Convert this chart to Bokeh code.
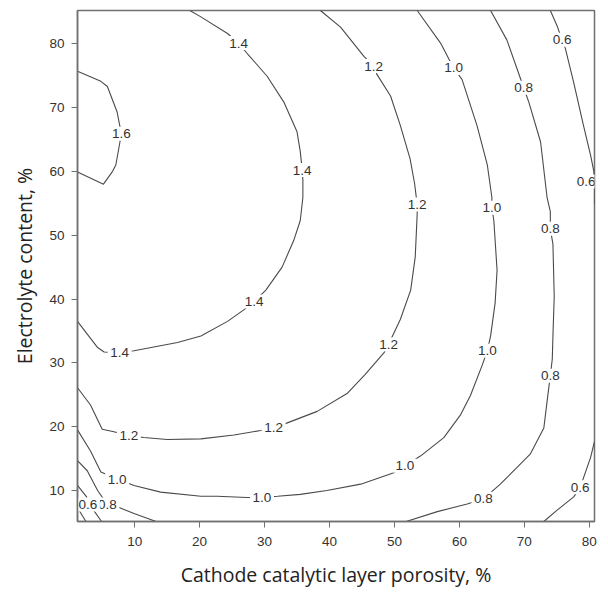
from bokeh.plotting import figure
from bokeh.models import FixedTicker
from bokeh.core.properties import value
from bokeh.embed import file_html
from bokeh.resources import INLINE

# ---- contour lines (x = porosity %, y = electrolyte content %) ----
c16_x = [1.2, 4.8, 5.8, 7.3, 7.6, 7.95, 7.7, 7.1, 6.6, 5.2, 1.2]
c16_y = [75.7, 74.1, 73.3, 69.3, 67.7, 65.9, 64.4, 61.0, 60.0, 58.0, 59.9]

c14_x = [18.5, 20.2, 24.3, 26.0, 27.3, 30.4, 33.0, 35.0, 35.5, 35.8, 35.9, 35.9, 35.5, 34.5,
         32.7, 30.2, 28.4, 26.8, 24.3, 20.2, 16.6, 9.9, 7.7, 5.3, 4.3, 1.2]
c14_y = [85.2, 84.2, 81.6, 80.1, 78.5, 74.9, 70.8, 66.2, 63.1, 60.2, 58.7, 55.9, 52.3, 49.2,
         45.0, 41.4, 39.6, 38.3, 36.5, 34.2, 33.2, 31.9, 31.6, 31.7, 32.4, 36.5]

c12_x = [1.2, 3.2, 5.0, 6.8, 9.1, 11.4, 15.0, 20.2, 25.3, 29.4, 31.4, 33.5, 38.1, 42.7, 45.5,
         48.4, 49.1, 50.9, 52.5, 53.2, 53.5, 53.5, 53.1, 52.4, 50.9, 49.4, 47.3, 46.8, 45.3, 41.7, 38.6]
c12_y = [26.1, 23.4, 19.6, 19.2, 18.6, 18.3, 18.0, 18.1, 18.7, 19.4, 19.8, 20.6, 22.4, 25.2, 28.2,
         31.6, 32.9, 36.8, 41.4, 46.6, 53.3, 54.8, 58.1, 62.0, 67.2, 71.8, 75.2, 76.5, 78.0, 82.6, 85.2]

c10_x = [1.2, 3.2, 4.8, 7.3, 9.9, 14.0, 20.2, 22.7, 27.3, 29.6, 32.0, 35.5, 39.6, 44.8, 49.9,
         51.6, 54.0, 57.6, 60.2, 61.7, 63.5, 64.3, 64.8, 65.5, 65.8, 65.3, 65.0, 65.0, 64.3, 62.7,
         60.4, 59.1, 57.1, 53.5]
c10_y = [19.5, 16.2, 12.9, 11.8, 10.8, 9.75, 9.1, 9.1, 8.9, 8.9, 9.1, 9.4, 10.0, 11.0, 12.8,
         13.9, 15.4, 18.3, 21.9, 24.9, 29.6, 31.9, 34.2, 39.4, 44.5, 52.3, 54.3, 55.9, 61.0, 67.2,
         74.4, 76.2, 80.1, 85.2]

c08a_x = [51.8, 56.6, 61.2, 63.7, 66.3, 70.9, 73.0, 73.6, 74.0, 74.3, 74.4, 74.6, 74.4, 74.0,
          74.0, 73.5, 72.5, 70.7, 69.9, 68.9, 67.3, 64.8]
c08a_y = [5.15, 6.7, 7.9, 8.7, 11.0, 15.7, 19.8, 24.8, 28.0, 30.6, 34.2, 40.4, 48.6, 51.0,
          53.7, 55.9, 64.6, 70.8, 73.1, 76.0, 80.6, 85.2]
c08b_x = [1.2, 2.7, 4.3, 5.8, 7.7, 9.9, 13.3]
c08b_y = [14.7, 13.1, 10.0, 7.8, 7.3, 6.4, 5.15]

c06a_x = [74.0, 75.0, 75.8, 76.3, 77.6, 79.1, 80.2, 80.7, 80.8, 80.8]
c06a_y = [85.2, 82.9, 80.6, 79.3, 73.9, 67.2, 62.5, 60.0, 58.0, 54.8]
c06b_x = [80.8, 80.2, 78.6, 77.6, 75.0, 73.0]
c06b_y = [17.7, 15.2, 10.5, 9.0, 6.9, 5.15]
c06c_x = [1.2, 2.6, 2.8, 3.7, 4.9]
c06c_y = [10.8, 9.0, 7.8, 6.9, 5.15]

c04_x = [1.2, 2.5]
c04_y = [7.3, 5.15]

# ---- contour labels ----
lab_x = [7.95, 26.0, 35.8, 28.4, 7.7, 46.8, 53.5, 49.1, 31.4, 9.1, 59.1, 65.0, 64.3, 51.6,
         29.6, 7.3, 69.9, 74.0, 74.0, 63.7, 5.8, 2.8, 75.8, 79.5, 78.6]
lab_y = [65.9, 80.1, 60.2, 39.6, 31.6, 76.5, 54.8, 32.9, 19.8, 18.6, 76.2, 54.3, 31.9, 13.9,
         8.9, 11.8, 73.1, 51.0, 28.0, 8.7, 7.8, 7.8, 80.6, 58.4, 10.5]
lab_t = ["1.6", "1.4", "1.4", "1.4", "1.4", "1.2", "1.2", "1.2", "1.2", "1.2", "1.0", "1.0",
         "1.0", "1.0", "1.0", "1.0", "0.8", "0.8", "0.8", "0.8", "0.8", "0.6", "0.6", "0.6", "0.6"]

x_ticks = [10, 20, 30, 40, 50, 60, 70, 80]
y_ticks = [10, 20, 30, 40, 50, 60, 70, 80]

p = figure(width=606, height=590, x_range=(1.2, 80.8), y_range=(5.15, 85.2),
           output_backend="svg", toolbar_location=None,
           min_border_left=77, min_border_top=10, min_border_right=12, min_border_bottom=62)
p.grid.visible = False
p.background_fill_color = "white"
p.border_fill_color = "white"
p.outline_line_color = "#707070"
p.outline_line_width = 1.5

line_col = "#4a4a4a"
pieces = [(c16_x, c16_y), (c14_x, c14_y), (c12_x, c12_y), (c10_x, c10_y),
          (c08a_x, c08a_y), (c08b_x, c08b_y), (c06a_x, c06a_y), (c06b_x, c06b_y),
          (c06c_x, c06c_y), (c04_x, c04_y)]
for xs, ys in pieces:
    p.line(xs, ys, line_color=line_col, line_width=1.1)

# each label: white box masking the line, then the text
for x, y, t in zip(lab_x, lab_y, lab_t):
    p.rect(x=[x], y=[y], width=24, height=14, width_units="screen", height_units="screen",
           fill_color="white", line_color=None)
    p.text(x=[x], y=[y], text=[t], text_align="center", text_baseline="middle",
           text_font=value("Liberation Sans"), text_font_size="13.5px", text_color="#333333")

for ax in (p.xaxis[0], p.yaxis[0]):
    ax.axis_line_color = "#707070"
    ax.axis_line_width = 1.5
    ax.major_tick_line_color = "#707070"
    ax.major_tick_in = 0
    ax.major_tick_out = 6
    ax.minor_tick_line_color = None
    ax.major_label_text_font = "Liberation Sans"
    ax.major_label_text_font_size = "13.5px"
    ax.major_label_text_color = "#333333"
    ax.axis_label_text_font = "Open Sans"
    ax.axis_label_text_font_size = "19.5px"
    ax.axis_label_text_font_style = "normal"
    ax.axis_label_text_color = "#222222"

p.xaxis.ticker = FixedTicker(ticks=x_ticks)
p.yaxis.ticker = FixedTicker(ticks=y_ticks)
p.xaxis.axis_label = "Cathode catalytic layer porosity, %"
p.yaxis.axis_label = "Electrolyte content, %"
p.xaxis.major_label_standoff = 9
p.yaxis.major_label_standoff = 7
p.xaxis.axis_label_standoff = 12
p.yaxis.axis_label_standoff = 8

open("out.html", "w").write(file_html(p, INLINE))
